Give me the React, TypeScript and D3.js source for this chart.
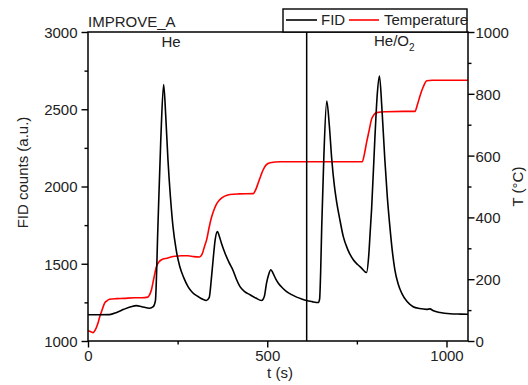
import { useRef, useEffect } from "react";
import * as d3 from "d3";

// FID signal (t in s, counts in a.u.)
const fidTime = [
  0, 30, 60, 80, 100, 120, 135, 150, 172, 182, 188, 195, 203, 211, 217, 223, 230, 237, 246, 256,
  267, 279, 292, 307, 320, 330, 338, 344, 349, 355, 361, 366, 372, 382, 393, 405, 414, 424, 437, 452,
  468, 484, 492, 498, 504, 510, 516, 524, 531, 542, 554, 568, 582, 596, 610, 625, 642, 646, 649, 652,
  658, 666, 673, 680, 687, 694, 703, 712, 725, 740, 752, 763, 777, 783, 787, 791, 800, 807, 813, 820,
  828, 835, 842, 849, 856, 865, 875, 890, 907, 925, 945, 954, 962, 982, 1010, 1040, 1060,
];
const fidCounts = [
  1170, 1170, 1171, 1185, 1205, 1222, 1229, 1222, 1212, 1222, 1260, 1740, 2300, 2660, 2450, 2175, 1930, 1742, 1590, 1482,
  1410, 1352, 1312, 1288, 1270, 1262, 1280, 1400, 1526, 1660, 1709, 1680, 1635, 1570, 1510, 1455, 1400, 1352, 1320, 1299,
  1278, 1262, 1290, 1374, 1430, 1461, 1440, 1400, 1374, 1345, 1320, 1300, 1284, 1272, 1262, 1255, 1249, 1270, 1450, 1742,
  2200, 2553, 2400, 2175, 2010, 1894, 1780, 1677, 1590, 1526, 1495, 1472, 1443, 1550, 1700, 1850, 2300, 2600, 2715, 2500,
  2175, 1930, 1742, 1580, 1461, 1370, 1310, 1255, 1222, 1210, 1205, 1208, 1198, 1184, 1176, 1174, 1173,
];

// Oven temperature (t in s, T in °C)
const tempTime = [
  0, 8, 14, 20, 27, 33, 40, 46, 53, 60, 80, 100, 130, 150, 167, 172, 177, 184, 191, 198,
  205, 220, 242, 260, 279, 295, 311, 318, 325, 331, 338, 344, 350, 357, 363, 370, 380, 396, 420, 461,
  468, 475, 482, 489, 497, 508, 536, 600, 680, 765, 771, 777, 784, 791, 798, 805, 830, 880, 912, 919,
  926, 935, 945, 960, 1060,
];
const tempValues = [
  33, 30, 27, 35, 55, 79, 103, 122, 130, 135, 137, 138, 140, 140, 142, 150, 166, 205, 241, 256,
  263, 268, 274, 276, 276, 273, 272, 280, 306, 328, 368, 398, 420, 440, 451, 460, 468, 474, 476, 477,
  490, 512, 535, 555, 570, 577, 580, 580, 580, 580, 605, 642, 680, 718, 733, 739, 742, 743, 743, 765,
  793, 822, 842, 844, 844,
];

const gasSwitch = 610;
const fidTicks = [1000, 1500, 2000, 2500, 3000];
const tempTicks = [0, 200, 400, 600, 800, 1000];
const timeTicks = [0, 500, 1000];

const W = 528;
const H = 385;
const FONT = "'Liberation Sans', Arial, sans-serif";

export default function App() {
  const svgRef = useRef<SVGSVGElement>(null);

  useEffect(() => {
    if (!svgRef.current) return;
    const svg = d3.select(svgRef.current);
    svg.selectAll("*").remove();

    const margin = { top: 32, right: 60, bottom: 44, left: 88 };
    const x0 = margin.left, x1 = W - margin.right;
    const y0 = H - margin.bottom, y1 = margin.top;

    const x = d3.scaleLinear().domain([0, 1060]).range([x0, x1]);
    const yF = d3.scaleLinear().domain([1000, 3000]).range([y0, y1]);
    const yT = d3.scaleLinear().domain([0, 1000]).range([y0, y1]);

    const styleAxis = (g: d3.Selection<SVGGElement, unknown, null, undefined>) => {
      g.select(".domain").remove();
      g.selectAll("line").attr("stroke", "#000").attr("stroke-width", 1.4);
      g.selectAll("text").attr("fill", "#222").attr("font-size", 15).attr("font-family", FONT);
    };

    // minor ticks
    const minor = svg.append("g");
    minor.append("g").attr("transform", `translate(${x0},0)`)
      .call(d3.axisLeft(yF).tickValues(d3.range(1250, 3000, 500)).tickSize(3.5).tickFormat(() => ""))
      .call(styleAxis);
    minor.append("g").attr("transform", `translate(${x1},0)`)
      .call(d3.axisRight(yT).tickValues(d3.range(100, 1000, 200)).tickSize(3.5).tickFormat(() => ""))
      .call(styleAxis);
    minor.append("g").attr("transform", `translate(0,${y0})`)
      .call(d3.axisBottom(x).tickValues([250, 750]).tickSize(3.5).tickFormat(() => ""))
      .call(styleAxis);

    // major ticks
    svg.append("g").attr("transform", `translate(${x0},0)`)
      .call(d3.axisLeft(yF).tickValues(fidTicks).tickSize(6.5).tickPadding(4).tickFormat(d3.format("d")))
      .call(styleAxis)
      .call(g => g.selectAll("text").attr("dy", "0.36em"));
    svg.append("g").attr("transform", `translate(${x1},0)`)
      .call(d3.axisRight(yT).tickValues(tempTicks).tickSize(6.5).tickPadding(1).tickFormat(d3.format("d")))
      .call(styleAxis)
      .call(g => g.selectAll("text").attr("dy", "0.36em"));
    svg.append("g").attr("transform", `translate(0,${y0})`)
      .call(d3.axisBottom(x).tickValues(timeTicks).tickSize(6.5).tickPadding(3).tickFormat(d3.format("d")))
      .call(styleAxis);

    // curves
    const fidLine = d3.line<number>()
      .x((_, i) => x(fidTime[i]))
      .y(d => yF(d))
      .curve(d3.curveMonotoneX);
    const tempLine = d3.line<number>()
      .x((_, i) => x(tempTime[i]))
      .y(d => yT(d))
      .curve(d3.curveMonotoneX);

    svg.append("path").datum(tempValues).attr("d", tempLine)
      .attr("fill", "none").attr("stroke", "#ff0000").attr("stroke-width", 1.6);
    svg.append("path").datum(fidCounts).attr("d", fidLine)
      .attr("fill", "none").attr("stroke", "#000").attr("stroke-width", 1.6);

    // gas switch line
    svg.append("line")
      .attr("x1", x(gasSwitch)).attr("x2", x(gasSwitch))
      .attr("y1", y1).attr("y2", y0)
      .attr("stroke", "#000").attr("stroke-width", 1.5);

    // frame
    svg.append("rect")
      .attr("x", x0).attr("y", y1).attr("width", x1 - x0).attr("height", y0 - y1)
      .attr("fill", "none").attr("stroke", "#000").attr("stroke-width", 1.5);

    const text = (tx: number, ty: number, s: string, anchor = "start") =>
      svg.append("text").attr("x", tx).attr("y", ty).attr("text-anchor", anchor)
        .attr("font-family", FONT).attr("font-size", 15).attr("fill", "#222").text(s);

    text(x0, 27, "IMPROVE_A");
    text(171, 47, "He", "middle");
    const he = text(374, 46, "He/O");
    he.append("tspan").attr("font-size", 10).attr("dy", 5).text("2");

    // axis titles
    svg.append("text")
      .attr("transform", `translate(28,${(y0 + y1) / 2 - 14}) rotate(-90)`)
      .attr("text-anchor", "middle").attr("font-family", FONT).attr("font-size", 15).attr("fill", "#222")
      .text("FID counts (a.u.)");
    svg.append("text")
      .attr("transform", `translate(523,${(y0 + y1) / 2}) rotate(-90)`)
      .attr("text-anchor", "middle").attr("font-family", FONT).attr("font-size", 15).attr("fill", "#222")
      .text("T (°C)");
    text((x0 + x1) / 2 + 2, 378, "t (s)", "middle");

    // legend
    const lg = svg.append("g");
    lg.append("rect").attr("x", 283).attr("y", 9).attr("width", 184).attr("height", 23)
      .attr("fill", "#fff").attr("stroke", "#000").attr("stroke-width", 1.4);
    lg.append("line").attr("x1", 286).attr("x2", 317).attr("y1", 20).attr("y2", 20)
      .attr("stroke", "#000").attr("stroke-width", 1.6);
    lg.append("text").attr("x", 321).attr("y", 25).attr("font-family", FONT).attr("font-size", 15)
      .attr("fill", "#222").text("FID");
    lg.append("line").attr("x1", 349).attr("x2", 379).attr("y1", 20).attr("y2", 20)
      .attr("stroke", "#ff0000").attr("stroke-width", 1.6);
    lg.append("text").attr("x", 384).attr("y", 25).attr("font-family", FONT).attr("font-size", 15)
      .attr("fill", "#222").text("Temperature");
  }, []);

  return (
    <svg ref={svgRef} width={W} height={H}
      style={{ position: "absolute", left: 0, top: 0, background: "#fff" }} />
  );
}
